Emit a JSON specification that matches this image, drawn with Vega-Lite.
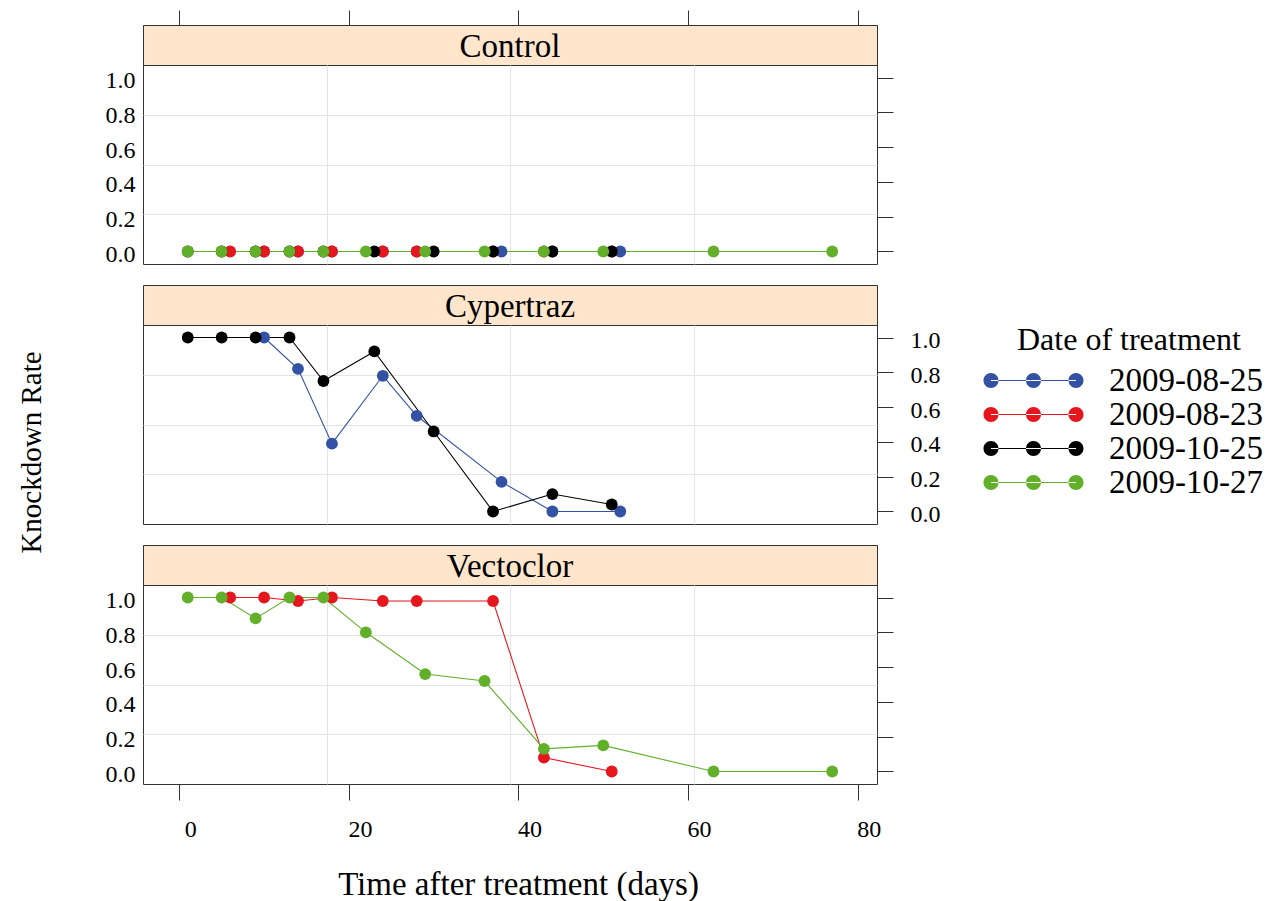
{
  "$schema": "https://vega.github.io/schema/vega-lite/v6.json",
  "padding": {"left": 16, "top": 9, "right": 5, "bottom": 5},
  "background": "white",
  "config": {
    "font": "Liberation Serif",
    "view": {"stroke": "#333333", "strokeWidth": 1},
    "axis": {
      "labelFont": "Liberation Serif", "titleFont": "Liberation Serif",
      "labelColor": "#000000", "titleColor": "#000000", "tickColor": "#333333",
      "domain": false, "labelFontSize": 24, "titleFontSize": 31, "titleFontWeight": "normal",
      "gridColor": "#e4e4e4", "gridWidth": 1, "labelOverlap": false, "labelFlush": false, "tickWidth": 1
    },
    "legend": {
      "padding": 0,
      "titleFont": "Liberation Serif", "titleFontSize": 32, "titleFontWeight": "normal", "titleColor": "#000000",
      "titleAnchor": "start", "titlePadding": 7, "titleLimit": 600,
      "labelFont": "Liberation Serif", "labelFontSize": 33, "labelColor": "#000000", "labelOffset": 59, "labelLimit": 600,
      "rowPadding": -1,
      "symbolType": "M-6.667,0A1,1 0 1 0 -4.667,0A1,1 0 1 0 -6.667,0Z M-1,0A1,1 0 1 0 1,0A1,1 0 1 0 -1,0Z M4.667,0A1,1 0 1 0 6.667,0A1,1 0 1 0 4.667,0Z M-5.667,-0.08L5.667,-0.08L5.667,0.08L-5.667,0.08Z",
      "symbolSize": 225, "symbolStrokeWidth": 0
    }
  },
  "datasets": {
    "kd": [
      {"trt": "Control", "date": "2009-08-25", "day": 10, "rate": 0},
      {"trt": "Control", "date": "2009-08-25", "day": 14, "rate": 0},
      {"trt": "Control", "date": "2009-08-25", "day": 18, "rate": 0},
      {"trt": "Control", "date": "2009-08-25", "day": 24, "rate": 0},
      {"trt": "Control", "date": "2009-08-25", "day": 28, "rate": 0},
      {"trt": "Control", "date": "2009-08-25", "day": 38, "rate": 0},
      {"trt": "Control", "date": "2009-08-25", "day": 44, "rate": 0},
      {"trt": "Control", "date": "2009-08-25", "day": 52, "rate": 0},
      {"trt": "Control", "date": "2009-08-23", "day": 6, "rate": 0},
      {"trt": "Control", "date": "2009-08-23", "day": 10, "rate": 0},
      {"trt": "Control", "date": "2009-08-23", "day": 14, "rate": 0},
      {"trt": "Control", "date": "2009-08-23", "day": 18, "rate": 0},
      {"trt": "Control", "date": "2009-08-23", "day": 24, "rate": 0},
      {"trt": "Control", "date": "2009-08-23", "day": 28, "rate": 0},
      {"trt": "Control", "date": "2009-08-23", "day": 37, "rate": 0},
      {"trt": "Control", "date": "2009-08-23", "day": 43, "rate": 0},
      {"trt": "Control", "date": "2009-08-23", "day": 51, "rate": 0},
      {"trt": "Control", "date": "2009-10-25", "day": 1, "rate": 0},
      {"trt": "Control", "date": "2009-10-25", "day": 5, "rate": 0},
      {"trt": "Control", "date": "2009-10-25", "day": 9, "rate": 0},
      {"trt": "Control", "date": "2009-10-25", "day": 13, "rate": 0},
      {"trt": "Control", "date": "2009-10-25", "day": 17, "rate": 0},
      {"trt": "Control", "date": "2009-10-25", "day": 23, "rate": 0},
      {"trt": "Control", "date": "2009-10-25", "day": 30, "rate": 0},
      {"trt": "Control", "date": "2009-10-25", "day": 37, "rate": 0},
      {"trt": "Control", "date": "2009-10-25", "day": 44, "rate": 0},
      {"trt": "Control", "date": "2009-10-25", "day": 51, "rate": 0},
      {"trt": "Control", "date": "2009-10-27", "day": 1, "rate": 0},
      {"trt": "Control", "date": "2009-10-27", "day": 5, "rate": 0},
      {"trt": "Control", "date": "2009-10-27", "day": 9, "rate": 0},
      {"trt": "Control", "date": "2009-10-27", "day": 13, "rate": 0},
      {"trt": "Control", "date": "2009-10-27", "day": 17, "rate": 0},
      {"trt": "Control", "date": "2009-10-27", "day": 22, "rate": 0},
      {"trt": "Control", "date": "2009-10-27", "day": 29, "rate": 0},
      {"trt": "Control", "date": "2009-10-27", "day": 36, "rate": 0},
      {"trt": "Control", "date": "2009-10-27", "day": 43, "rate": 0},
      {"trt": "Control", "date": "2009-10-27", "day": 50, "rate": 0},
      {"trt": "Control", "date": "2009-10-27", "day": 63, "rate": 0},
      {"trt": "Control", "date": "2009-10-27", "day": 77, "rate": 0},
      {"trt": "Cypertraz", "date": "2009-08-25", "day": 10, "rate": 1.0},
      {"trt": "Cypertraz", "date": "2009-08-25", "day": 14, "rate": 0.82},
      {"trt": "Cypertraz", "date": "2009-08-25", "day": 18, "rate": 0.39},
      {"trt": "Cypertraz", "date": "2009-08-25", "day": 24, "rate": 0.78},
      {"trt": "Cypertraz", "date": "2009-08-25", "day": 28, "rate": 0.55},
      {"trt": "Cypertraz", "date": "2009-08-25", "day": 38, "rate": 0.17},
      {"trt": "Cypertraz", "date": "2009-08-25", "day": 44, "rate": 0.0},
      {"trt": "Cypertraz", "date": "2009-08-25", "day": 52, "rate": 0.0},
      {"trt": "Cypertraz", "date": "2009-10-25", "day": 1, "rate": 1.0},
      {"trt": "Cypertraz", "date": "2009-10-25", "day": 5, "rate": 1.0},
      {"trt": "Cypertraz", "date": "2009-10-25", "day": 9, "rate": 1.0},
      {"trt": "Cypertraz", "date": "2009-10-25", "day": 13, "rate": 1.0},
      {"trt": "Cypertraz", "date": "2009-10-25", "day": 17, "rate": 0.75},
      {"trt": "Cypertraz", "date": "2009-10-25", "day": 23, "rate": 0.92},
      {"trt": "Cypertraz", "date": "2009-10-25", "day": 30, "rate": 0.46},
      {"trt": "Cypertraz", "date": "2009-10-25", "day": 37, "rate": 0.0},
      {"trt": "Cypertraz", "date": "2009-10-25", "day": 44, "rate": 0.10},
      {"trt": "Cypertraz", "date": "2009-10-25", "day": 51, "rate": 0.04},
      {"trt": "Vectoclor", "date": "2009-08-23", "day": 6, "rate": 1.0},
      {"trt": "Vectoclor", "date": "2009-08-23", "day": 10, "rate": 1.0},
      {"trt": "Vectoclor", "date": "2009-08-23", "day": 14, "rate": 0.98},
      {"trt": "Vectoclor", "date": "2009-08-23", "day": 18, "rate": 1.0},
      {"trt": "Vectoclor", "date": "2009-08-23", "day": 24, "rate": 0.98},
      {"trt": "Vectoclor", "date": "2009-08-23", "day": 28, "rate": 0.98},
      {"trt": "Vectoclor", "date": "2009-08-23", "day": 37, "rate": 0.98},
      {"trt": "Vectoclor", "date": "2009-08-23", "day": 43, "rate": 0.08},
      {"trt": "Vectoclor", "date": "2009-08-23", "day": 51, "rate": 0.0},
      {"trt": "Vectoclor", "date": "2009-10-27", "day": 1, "rate": 1.0},
      {"trt": "Vectoclor", "date": "2009-10-27", "day": 5, "rate": 1.0},
      {"trt": "Vectoclor", "date": "2009-10-27", "day": 9, "rate": 0.88},
      {"trt": "Vectoclor", "date": "2009-10-27", "day": 13, "rate": 1.0},
      {"trt": "Vectoclor", "date": "2009-10-27", "day": 17, "rate": 1.0},
      {"trt": "Vectoclor", "date": "2009-10-27", "day": 22, "rate": 0.80},
      {"trt": "Vectoclor", "date": "2009-10-27", "day": 29, "rate": 0.56},
      {"trt": "Vectoclor", "date": "2009-10-27", "day": 36, "rate": 0.52},
      {"trt": "Vectoclor", "date": "2009-10-27", "day": 43, "rate": 0.13},
      {"trt": "Vectoclor", "date": "2009-10-27", "day": 50, "rate": 0.15},
      {"trt": "Vectoclor", "date": "2009-10-27", "day": 63, "rate": 0.0},
      {"trt": "Vectoclor", "date": "2009-10-27", "day": 77, "rate": 0.0}
    ]
  },
  "spacing": 0,
  "bounds": "flush",
  "vconcat": [
    {
      "width": 734, "height": 40,
      "view": {"fill": "#ffe5cc", "stroke": "#333333"},
      "data": {"values": [{"t": "Control"}]},
      "mark": {"type": "text", "fontSize": 33, "font": "Liberation Serif", "baseline": "middle", "align": "center", "dy": 2, "color": "#000000"},
      "encoding": {"text": {"field": "t"}}
    },
    {
      "width": 734, "height": 199,
      "data": {"name": "kd"},
      "transform": [{"filter": "datum.trt == 'Control'"}],
      "layer": [
        {
          "mark": {"type": "line", "strokeWidth": 1.1},
          "encoding": {
            "x": {"field": "day", "type": "quantitative", "scale": {"domain": [-4.28, 82.28], "nice": false, "zero": false},
                  "axis": {"orient": "bottom", "values": [17.36, 39, 60.64], "grid": true, "ticks": false, "labels": false, "title": null}},
            "y": {"field": "rate", "type": "quantitative", "scale": {"domain": [-0.072, 1.072], "nice": false, "zero": false},
                  "axis": {"orient": "left", "values": [0, 0.2, 0.4, 0.6, 0.8, 1, 0.214, 0.5, 0.786], "grid": true,
                           "gridOpacity": {"condition": {"test": "datum.value == 0.214 || datum.value == 0.5 || datum.value == 0.786", "value": 1}, "value": 0},
                           "ticks": false, "tickSize": 0, "labelPadding": 8, "labelOffset": 3,
                           "labelExpr": "(datum.value == 0.214 || datum.value == 0.5 || datum.value == 0.786) ? '' : format(datum.value, '.1f')",
                           "title": null}},
            "color": {"field": "date", "type": "nominal",
                      "scale": {"domain": ["2009-08-25", "2009-08-23", "2009-10-25", "2009-10-27"], "range": ["#3452a4", "#e5161e", "#000000", "#62b02a"]},
                      "legend": {"title": "Date of treatment", "orient": "none", "legendX": 874, "legendY": 300,
                                 "encode": {"symbols": {"update": {"fill": {"scale": "color", "field": "value"}, "fillOpacity": {"value": 1}, "opacity": {"value": 1}, "strokeWidth": {"value": 0}}}}}}
          }
        },
        {
          "mark": {"type": "point", "filled": true, "size": 140, "opacity": 1, "shape": "circle"},
          "encoding": {
            "x": {"field": "day", "type": "quantitative", "scale": {"domain": [-4.28, 82.28], "nice": false, "zero": false},
                  "axis": {"orient": "top", "offset": 40, "values": [0, 20, 40, 60, 80], "grid": false, "ticks": true, "tickSize": 15, "labels": false, "title": null}},
            "y": {"field": "rate", "type": "quantitative", "scale": {"domain": [-0.072, 1.072], "nice": false, "zero": false},
                  "axis": {"orient": "right", "values": [0, 0.2, 0.4, 0.6, 0.8, 1], "grid": false, "ticks": true, "tickSize": 16, "labels": false, "title": null}},
            "color": {"field": "date", "type": "nominal",
                      "scale": {"domain": ["2009-08-25", "2009-08-23", "2009-10-25", "2009-10-27"], "range": ["#3452a4", "#e5161e", "#000000", "#62b02a"]},
                      "legend": {"title": "Date of treatment", "orient": "none", "legendX": 874, "legendY": 300,
                                 "encode": {"symbols": {"update": {"fill": {"scale": "color", "field": "value"}, "fillOpacity": {"value": 1}, "opacity": {"value": 1}, "strokeWidth": {"value": 0}}}}}}
          }
        }
      ],
      "resolve": {"axis": {"x": "independent", "y": "independent"}}
    },
    {
      "width": 734, "height": 21,
      "view": {"stroke": null, "fill": null},
      "data": {"values": []},
      "mark": {"type": "point"},
      "encoding": {}
    },
    {
      "width": 734, "height": 40,
      "view": {"fill": "#ffe5cc", "stroke": "#333333"},
      "data": {"values": [{"t": "Cypertraz"}]},
      "mark": {"type": "text", "fontSize": 33, "font": "Liberation Serif", "baseline": "middle", "align": "center", "dy": 2, "color": "#000000"},
      "encoding": {"text": {"field": "t"}}
    },
    {
      "width": 734, "height": 199,
      "data": {"name": "kd"},
      "transform": [{"filter": "datum.trt == 'Cypertraz'"}],
      "layer": [
        {
          "mark": {"type": "line", "strokeWidth": 1.1},
          "encoding": {
            "x": {"field": "day", "type": "quantitative", "scale": {"domain": [-4.28, 82.28], "nice": false, "zero": false},
                  "axis": {"orient": "bottom", "values": [17.36, 39, 60.64], "grid": true, "ticks": false, "labels": false, "title": null}},
            "y": {"field": "rate", "type": "quantitative", "scale": {"domain": [-0.072, 1.072], "nice": false, "zero": false},
                  "axis": {"orient": "left", "values": [0.214, 0.5, 0.786], "grid": true, "ticks": false, "labels": false,
                           "title": "Knockdown Rate", "titleFontSize": 29, "titleX": -112, "titleY": 127, "titleAngle": 270, "titleAlign": "center", "titleBaseline": "middle"}},
            "color": {"field": "date", "type": "nominal",
                      "scale": {"domain": ["2009-08-25", "2009-08-23", "2009-10-25", "2009-10-27"], "range": ["#3452a4", "#e5161e", "#000000", "#62b02a"]},
                      "legend": {"title": "Date of treatment", "orient": "none", "legendX": 874, "legendY": 300,
                                 "encode": {"symbols": {"update": {"fill": {"scale": "color", "field": "value"}, "fillOpacity": {"value": 1}, "opacity": {"value": 1}, "strokeWidth": {"value": 0}}}}}}
          }
        },
        {
          "mark": {"type": "point", "filled": true, "size": 140, "opacity": 1, "shape": "circle"},
          "encoding": {
            "x": {"field": "day", "type": "quantitative", "scale": {"domain": [-4.28, 82.28], "nice": false, "zero": false}, "axis": null},
            "y": {"field": "rate", "type": "quantitative", "scale": {"domain": [-0.072, 1.072], "nice": false, "zero": false},
                  "axis": {"orient": "right", "values": [0, 0.2, 0.4, 0.6, 0.8, 1], "grid": false, "ticks": true, "tickSize": 16, "labels": true,
                           "labelPadding": 17, "labelOffset": 3, "format": ".1f", "title": null}},
            "color": {"field": "date", "type": "nominal",
                      "scale": {"domain": ["2009-08-25", "2009-08-23", "2009-10-25", "2009-10-27"], "range": ["#3452a4", "#e5161e", "#000000", "#62b02a"]},
                      "legend": {"title": "Date of treatment", "orient": "none", "legendX": 874, "legendY": 300,
                                 "encode": {"symbols": {"update": {"fill": {"scale": "color", "field": "value"}, "fillOpacity": {"value": 1}, "opacity": {"value": 1}, "strokeWidth": {"value": 0}}}}}}
          }
        }
      ],
      "resolve": {"axis": {"x": "independent", "y": "independent"}}
    },
    {
      "width": 734, "height": 21,
      "view": {"stroke": null, "fill": null},
      "data": {"values": []},
      "mark": {"type": "point"},
      "encoding": {}
    },
    {
      "width": 734, "height": 40,
      "view": {"fill": "#ffe5cc", "stroke": "#333333"},
      "data": {"values": [{"t": "Vectoclor"}]},
      "mark": {"type": "text", "fontSize": 33, "font": "Liberation Serif", "baseline": "middle", "align": "center", "dy": 2, "color": "#000000"},
      "encoding": {"text": {"field": "t"}}
    },
    {
      "width": 734, "height": 199,
      "data": {"name": "kd"},
      "transform": [{"filter": "datum.trt == 'Vectoclor'"}],
      "layer": [
        {
          "mark": {"type": "line", "strokeWidth": 1.1},
          "encoding": {
            "x": {"field": "day", "type": "quantitative", "scale": {"domain": [-4.28, 82.28], "nice": false, "zero": false},
                  "axis": {"orient": "top", "values": [17.36, 39, 60.64], "grid": true, "ticks": false, "labels": false, "title": null}},
            "y": {"field": "rate", "type": "quantitative", "scale": {"domain": [-0.072, 1.072], "nice": false, "zero": false},
                  "axis": {"orient": "left", "values": [0, 0.2, 0.4, 0.6, 0.8, 1, 0.214, 0.5, 0.786], "grid": true,
                           "gridOpacity": {"condition": {"test": "datum.value == 0.214 || datum.value == 0.5 || datum.value == 0.786", "value": 1}, "value": 0},
                           "ticks": false, "tickSize": 0, "labelPadding": 8, "labelOffset": 3,
                           "labelExpr": "(datum.value == 0.214 || datum.value == 0.5 || datum.value == 0.786) ? '' : format(datum.value, '.1f')",
                           "title": null}},
            "color": {"field": "date", "type": "nominal",
                      "scale": {"domain": ["2009-08-25", "2009-08-23", "2009-10-25", "2009-10-27"], "range": ["#3452a4", "#e5161e", "#000000", "#62b02a"]},
                      "legend": {"title": "Date of treatment", "orient": "none", "legendX": 874, "legendY": 300,
                                 "encode": {"symbols": {"update": {"fill": {"scale": "color", "field": "value"}, "fillOpacity": {"value": 1}, "opacity": {"value": 1}, "strokeWidth": {"value": 0}}}}}}
          }
        },
        {
          "mark": {"type": "point", "filled": true, "size": 140, "opacity": 1, "shape": "circle"},
          "encoding": {
            "x": {"field": "day", "type": "quantitative", "scale": {"domain": [-4.28, 82.28], "nice": false, "zero": false},
                  "axis": {"orient": "bottom", "values": [0, 20, 40, 60, 80], "grid": false, "ticks": true, "tickSize": 16, "labels": true,
                           "labelPadding": 17, "labelOffset": 11, "format": "d", "title": "Time after treatment (days)", "titleFontSize": 33,
                           "titlePadding": 27, "titleX": 375, "titleAlign": "center"}},
            "y": {"field": "rate", "type": "quantitative", "scale": {"domain": [-0.072, 1.072], "nice": false, "zero": false},
                  "axis": {"orient": "right", "values": [0, 0.2, 0.4, 0.6, 0.8, 1], "grid": false, "ticks": true, "tickSize": 16, "labels": false, "title": null}},
            "color": {"field": "date", "type": "nominal",
                      "scale": {"domain": ["2009-08-25", "2009-08-23", "2009-10-25", "2009-10-27"], "range": ["#3452a4", "#e5161e", "#000000", "#62b02a"]},
                      "legend": {"title": "Date of treatment", "orient": "none", "legendX": 874, "legendY": 300,
                                 "encode": {"symbols": {"update": {"fill": {"scale": "color", "field": "value"}, "fillOpacity": {"value": 1}, "opacity": {"value": 1}, "strokeWidth": {"value": 0}}}}}}
          }
        }
      ],
      "resolve": {"axis": {"x": "independent", "y": "independent"}}
    }
  ]
}
